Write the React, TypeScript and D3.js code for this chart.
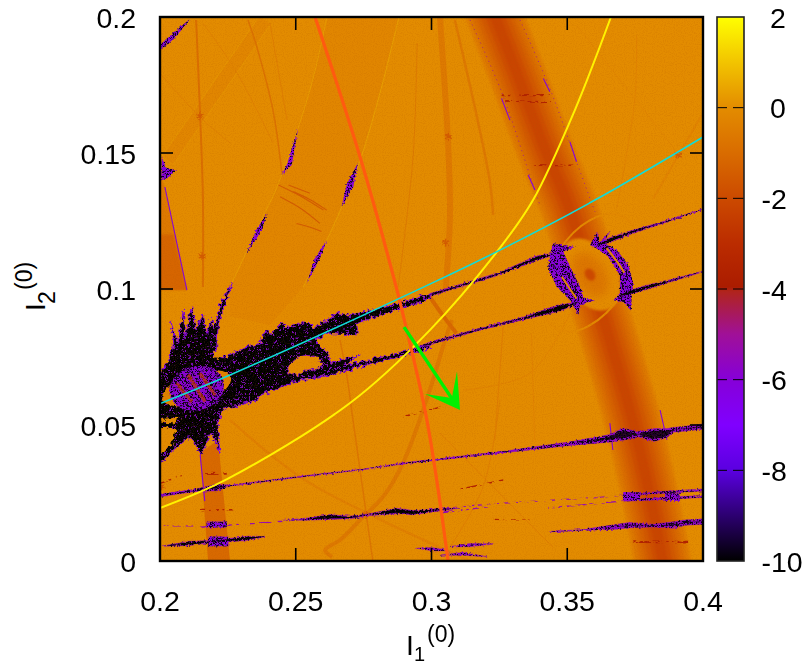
import React from "react";
import * as d3 from "d3";

// ---- axes -------------------------------------------------------------
const xTicks = [0.2, 0.25, 0.3, 0.35, 0.4];
const yTicks = [0, 0.05, 0.1, 0.15, 0.2];
const cTicks = [2, 0, -2, -4, -6, -8, -10];
const paletteValues = [2, 1, 0, -1, -2, -3, -3.95, -4.05, -5, -6, -7, -8, -9, -10];
const paletteColors = ["#ffff00", "#f2c400", "#e38c00", "#d96c00", "#cc4a00", "#bb2c00", "#ab1c00", "#b0241c", "#a01098", "#8600d8", "#8000ff", "#5a00e0", "#2c0070", "#000000"];

// ---- broad bands: I1, I2 in units of 1e-3 ----------------------------
const rightBand = [[321.5, 206], [323.4, 200], [332.6, 176.8], [342.9, 147.4], [350.3, 132.7], [358.4, 105.1], [365.7, 81], [373.1, 56], [378.6, 33.5], [385.3, 0], [386, -6]];
const rightBandValues = [-0.45, -0.7, -1, -1.3, -1.6, -1.9, -2.2];
const rightBandWidths = [57, 51, 44, 36, 28, 19, 10];
const wideBandPoly = [[288, 200], [281, 172], [273.7, 147.4], [263.7, 122.8], [252.7, 100.7], [240.5, 86.8], [225.8, 90], [225.8, 100.7], [237.9, 126.5], [243.1, 137.5], [255.2, 173.1], [261.5, 200]];
const wideEdgeA = [[288, 200], [281, 172], [273.7, 147.4], [263.7, 122.8], [252.7, 100.7]];
const wideEdgeB = [[225.8, 100.7], [237.9, 126.5], [243.1, 137.5], [255.2, 173.1], [261.5, 200]];
const diagBand = [[238.7, 198.9], [202.9, 147.4]];
const leftBandPoly = [[200, 141.9], [201.8, 137.5], [209.9, 99.6], [200, 99.6]];
const leftBandDark = [[200, 120], [205, 120], [209.9, 99.6], [200, 99.6]];
const lowBandPoly = [[214.7, 39.7], [221.4, 44.5], [225.8, 0], [217.7, 0]];

// ---- thin resonance arcs: value, width, points -----------------------
const arcValues = [-0.9, -0.8, -0.5, -0.55, -0.7, -0.6, -0.35, -0.4, -0.4, -0.3, -0.3, -0.4, -1.1, -0.6, -0.25, -0.25, -0.15, -0.4, -0.25, -0.25];
const arcWidths = [2, 1.5, 1, 6, 1.5, 4, 2.5, 1, 1, 1, 1, 1, 4, 2.5, 1, 2, 1, 1.2, 1, 1];
const arcPoints = [
  [[213.3, 198.9], [214.7, 165.8], [215.8, 133.8], [215.8, 100.7]],
  [[232.4, 198.9], [235.7, 188.9], [241.6, 165.8], [244.9, 142.6]],
  [[294.7, 190.4], [293.2, 148.5], [287.7, 100.7]],
  [[303.1, 200], [306.2, 151.7], [306.8, 127.2], [305.2, 99.6]],
  [[266.3, 81.2], [268.9, 67.6], [271.1, 51.8], [278.4, 0]],
  [[307.5, 88.6], [304.2, 78.7], [299.4, 62.9], [289.5, 36], [282.1, 23.5], [274.8, 16.2], [266.3, 7.7], [260.8, 4], [263.4, 1.5]],
  [[225.8, 51.8], [251.6, 30.9], [276.2, 17.6], [314.2, 0]],
  [[303.1, 47], [344.7, 5.1]],
  [[325.2, 59.2], [319, 27.2], [306.8, 5.1]],
  [[215.8, 197.8], [228.4, 179.4], [241.6, 153.7]],
  [[200, 179.4], [214.7, 163.2], [225.8, 153.7]],
  [[240.5, 197.8], [246.8, 162.1]],
  [[299.4, 97.1], [304, 90.5], [309.2, 83.7]],
  [[308.6, 198.9], [316.6, 163.9], [321.5, 139.4], [322.7, 127.2]],
  [[375.5, 193.3], [374.9, 170], [368.2, 129.6]],
  [[399.5, 163.9], [381.7, 133.3]],
  [[353.4, 197], [390.3, 150.5]],
  [[326.4, 86.1], [323.3, 44.5]],
  [[336.8, 83.7], [338, 44.5]],
  [[351, 91], [336.2, 69], [311.7, 62.8]],
];
const striations = [
  [[243.6, 138.2], [252, 134], [260.2, 129]],
  [[244.2, 133.9], [252, 129.5], [258.9, 124.1]],
  [[249.1, 135.8], [255, 133], [261.4, 129]],
  [[250.3, 124.1], [255, 122.8], [259.5, 121.1]],
  [[247.3, 138.2], [255.2, 135.2]],
];
const starCentres = [[214.7, 163.5], [215.5, 112], [306.2, 156], [305.2, 117], [276, 17], [390.9, 149.2], [200.6, 27.5]];
const bandEdgeDots = [
  [[314.2, 198.9], [325.8, 172.5], [336.2, 141.9], [339.9, 130.9]],
  [[332.6, 198.9], [343.6, 173.7], [353.4, 146.8], [360.2, 128.4]],
];
const bandEdgeMarks = [
  [[341.2, 177.4], [343.6, 172.5]],
  [[351, 154.1], [353.4, 146.8]],
  [[335.6, 141.9], [338.1, 136.4]],
  [[325.8, 170.1], [328.9, 162.1]],
  [[365.7, 50.7], [366.8, 40.8]],
  [[384.2, 55.5], [386.7, 44.5]],
  [[214.8, 39], [216.5, 22]],
  [[201.8, 137.5], [209.9, 99.6]],
];

// ---- sharp streaks: I1, I2, half-thickness ---------------------------
const upperLeft = [[299.4, 97.8, 0.5], [325.2, 105.7, 0.5], [332.6, 108.8, 0.7], [338.7, 111.3, 0.9], [343.6, 112.5, 0.5]];
const upperRight = [[362, 116.5, 0.5], [365.7, 118, 0.9], [374.3, 121.1, 0.6], [384.1, 124.1, 0.35], [399.9, 129.3, 0.15]];
const lowerLeft = [[292, 77, 0.5], [299.4, 80, 0.5], [316.6, 84.9, 0.4], [333.8, 89.2, 0.5], [346.7, 92.9, 1.2], [353.4, 94.7, 0.4]];
const lowerRight = [[369, 97.5, 0.4], [371.9, 98.4, 0.8], [379.2, 100.6, 0.8], [389, 103.3, 0.4], [399.9, 106.4, 0.18]];
const streakA = [[200, 24.1, 0.5], [212.3, 25.9, 0.4], [220.9, 27, 1.2], [225.8, 27.7, 0.2], [251.6, 31, 0.2], [274.9, 33.7, 0.15], [289.6, 35.9, 0.25], [303.1, 37.4, 0.25], [327.7, 40.2, 0.3], [352.2, 43.3, 0.7], [365.7, 45.1, 1.4], [370.6, 46.6, 2.2], [376.1, 46.6, 0.9], [381.7, 46.3, 2.4], [386.6, 47, 1.7], [389, 48.2, 0.9], [399.9, 49.4, 1]];
const streakB = [[245.4, 15, 0.02], [254, 15.4, 0.4], [262.6, 16.2, 0.9], [270, 16, 0.5], [276.1, 16.9, 0.3], [287.2, 18.4, 1], [293.3, 17.8, 0.8], [304.4, 19, 0.4], [310, 19.4, 0.05]];
const streakB5 = [[371.2, 24.3, 0.25], [385, 25.2, 0.4], [399.9, 26.1, 0.4]];
const streakB6 = [[372, 22.2, 0.2], [385, 23, 0.4], [399.9, 23.7, 0.4]];
const streakC = [[201.2, 5.5, 0.1], [211, 6.5, 0.8], [218.4, 7.1, 0.4], [225.2, 7.7, 0.6], [231.9, 8.3, 0.8], [238.7, 9, 0.05]];
const streakD = [[343.6, 10.8, 0.1], [355.9, 11.4, 0.2], [368.2, 12.6, 0.9], [373.1, 13.2, 1], [381.7, 13, 0.5], [389, 13.2, 1.2], [393.3, 14.1, 1], [399.9, 14.5, 1]];
const streakE = [[306.8, 5.3, 0.05], [314.1, 5.8, 0.6], [322.7, 6.3, 0.05]];
const streakF = [[303.1, 2.2, 0.05], [311.7, 2.6, 0.5], [320.3, 1.6, 0.05]];
const streakG = [[294.5, 4.7, 0.05], [300.7, 4.3, 0.6], [306.8, 3.8, 0.05]];
const purpleStreaks = [upperLeft, upperRight, lowerLeft, lowerRight, streakA, streakB, streakB5, streakB6, streakC, streakD, streakE, streakF, streakG];
const coreStreaks = [upperLeft, upperRight, lowerLeft, lowerRight, streakB, streakC];
const brokenStreaks = [
  [[214.7, 12.4, 0.25], [247.9, 14.8, 0.25]],
  [[200, 12.9, 0.2], [212.3, 12.9, 0.2]],
  [[303.1, 17.8, 0.4], [321.5, 20, 0.2]],
  [[303.1, 19.4, 0.25], [325.2, 21.2, 0.25], [362, 23.4, 0.25], [371.2, 24.3, 0.25]],
  [[343, 19.5, 0.25], [372, 22.2, 0.25]],
];
const purpleBoxes = [
  [[370.6, 23.7, 1.6], [376.8, 23.7, 1.6]],
  [[386, 23.5, 1.4], [391.5, 23.5, 1.4]],
  [[217.8, 7.2, 1.8], [225.2, 7.2, 1.8]],
  [[217.2, 13.4, 1.1], [224.6, 13.4, 1.1]],
];
const redStreaks = [
  [[214.1, 18.7, 0.5], [227, 19, 0.4]],
  [[216.6, 32.2, 0.6], [224.6, 32.2, 0.5]],
  [[374.3, 7.1, 0.5], [394.6, 6.9, 0.5]],
  [[310.5, 26.4, 0.3], [326.4, 29.8, 0.3]],
  [[322.7, 15.3, 0.2], [338.7, 15, 0.2]],
  [[289.6, 53.1, 0.3], [304.3, 56.8, 0.3]],
  [[325.8, 171.3, 0.4], [343.6, 171.3, 0.4]],
  [[325.8, 169.2, 0.4], [344, 168.6, 0.4]],
  [[337.5, 145.6, 0.4], [352.2, 145.4, 0.4]],
  [[200, 28.5, 0.3], [208, 31.5, 0.3]],
];

// ---- chaotic patches: outlines in I1, I2 ------------------------------
const leftBlob = [[200, 69.6], [203.1, 73.3], [205.1, 80], [204, 88], [206.5, 80], [208.6, 92.3], [209.2, 82.5], [211.7, 93.5], [213.3, 84.9], [215.7, 90.4], [217.2, 83.7], [219, 89.2], [219.9, 84.9], [222.7, 95.3], [226.8, 102.7], [221.5, 87.4], [220.9, 78.8], [219.6, 75.7], [222.7, 74.5], [225.8, 75.7], [229.5, 77.6], [233.2, 79], [236.8, 80], [239.3, 84.9], [241.1, 83.1], [244.8, 88], [246, 85.5], [254, 88], [256.5, 85.5], [265.1, 91], [270, 90.4], [281, 92.9], [289.6, 95.3], [299.5, 98.2], [299.5, 96.6], [289.6, 92.9], [281, 90.4], [272.4, 87.4], [273.1, 83.1], [261.4, 83.7], [257, 81], [261.5, 76.5], [263, 72.7], [273.7, 75.7], [267.5, 72.1], [277.4, 73.9], [284.7, 75.7], [294.6, 78.2], [299.5, 79.4], [299.5, 78.2], [292.1, 76.1], [276.1, 72.1], [262.6, 68.4], [251.6, 66.5], [245.4, 64.1], [236.8, 61], [235.6, 59], [227, 56.7], [222.7, 55.3], [221.5, 51.8], [221.5, 45.7], [222.1, 39.6], [220.3, 44.5], [218.4, 46.9], [216.6, 42], [215.3, 39], [212.9, 43.3], [210.4, 45.7], [204.9, 40.8], [199, 34.9], [199, 69.6]];
const blobHole = [[247.3, 71.4], [246.9, 69.2], [250.4, 68.4], [254, 70.2], [258.5, 70.6], [259.8, 72.8], [257.9, 75], [254, 75.7], [250.4, 74.9]];
const blobGap1 = [[199, 52.1], [207.4, 52.8], [204.9, 50.6], [199, 50.9]];
const blobGap2 = [[199, 49.4], [206.1, 48.8], [204.3, 43.3], [199, 37.8]];
const blobGap3 = [[219.6, 75.7], [222.7, 75.5], [221.5, 74.3], [219.6, 74.5]];
const blobIsland = { c: [213.5, 63.5], rx: 13.2, ry: 5.6 };
const blobIslandCore = { c: [213.5, 63.5], rx: 10.2, ry: 8 };
const islandStripes = [
  [[210.4, 68.4], [216.6, 58.6]],
  [[214.7, 69], [220.3, 61]],
  [[206.1, 65.3], [211.7, 58.6]],
];
const crescentRight = [[358.4, 116.2], [361, 121], [361.8, 117], [366, 121.5], [363.3, 117], [368.2, 114.3], [372.5, 108.8], [374.3, 102.1], [373.7, 98.4], [373.5, 92], [370.6, 95.3], [367, 95.9], [369.4, 98.4], [369.4, 105.1], [365.1, 111.9], [360.8, 114.9]];
const crescentLeft = [[344.8, 116.8], [347.9, 116.2], [352.8, 115.5], [348.5, 113.7], [351.6, 107], [355.3, 99.6], [355.9, 96.6], [360.2, 95.9], [354.7, 94.1], [354.1, 90.4], [351.6, 95.3], [346.1, 100.8], [343, 107.6], [343.6, 112.5]];
const sliverRight = [[364.5, 115], [368, 110.5], [371, 106]];
const sliverLeft = [[348, 104.5], [351, 100], [353.4, 96.5]];
const island = { c: [358.4, 105.3], rx: 14.5, ry: 9.5 };
const islandInner = { c: [358.4, 105.3], rx: 9, ry: 5.5 };
const islandRing = { c: [358.4, 106], rx: 24, ry: 14 };
const fragments = [
  [[272.9, 146.3], [268.8, 138.8], [266.9, 130.2], [271.2, 137.6]],
  [[261.4, 118], [257.1, 111.3], [254, 102.1], [258.9, 111.3]],
  [[250.9, 159], [246.7, 145.6], [244.8, 141.9], [248.5, 145.6]],
  [[239.3, 127.8], [235.4, 121.7], [231.9, 113.1], [237.5, 121.7]],
  [[200, 189.7], [204.8, 194.1], [211, 199.2], [205.5, 192.3], [200, 187.8]],
  [[200.7, 148.5], [202.2, 144.6], [205.9, 143.7], [202.9, 140.8], [200.4, 140]],
];

// ---- over-plotted curves ---------------------------------------------
const cyanCurve = [[200, 57.9], [225.8, 68.4], [299.4, 101.8], [325.2, 114.3], [360.2, 132.7], [400, 155.9]];
const yellowCurve = [[200, 19.5], [224.7, 30.1], [270, 58.1], [299.4, 84.9], [325.2, 115.1], [337.4, 132.7], [352.8, 165.8], [366.1, 200]];
const redCurve = [[257.1, 200], [273.7, 148.5], [287.3, 99.6], [289.1, 92.3], [298.3, 51.8], [306.1, 0]];
const arrowShaft = [[289.9, 86], [309, 57.5]];
const arrowHead = [[310.5, 55.5], [309.4, 69.8], [307.5, 59.9], [297.6, 61.4]];

// ---- scales -----------------------------------------------------------
const L = 160, R = 703, T = 17, B = 561;
const xS = d3.scaleLinear().domain([0.2, 0.4]).range([L, R]);
const yS = d3.scaleLinear().domain([0, 0.2]).range([B, T]);
const cS = d3.scaleLinear().domain([-10, 2]).range([B, T]);
const colorOf = d3.scaleLinear<string>().domain(paletteValues).range(paletteColors).clamp(true);
const mx = (v: number) => xS(v / 1000);
const my = (v: number) => yS(v / 1000);
const curve = d3.line<number[]>().x((p) => mx(p[0])).y((p) => my(p[1])).curve(d3.curveCatmullRom.alpha(0.5));
const smooth = d3.line<number[]>().x((p) => mx(p[0])).y((p) => my(p[1])).curve(d3.curveBasis);
const straight = d3.line<number[]>().x((p) => mx(p[0])).y((p) => my(p[1]));
const closed = (pts: number[][]) => straight(pts) + "Z";
const lens = (pts: number[][], shrink = 0) => {
  const top = pts.map((p) => [p[0], p[1] + Math.max(0, p[2] - shrink)]);
  const bot = pts.map((p) => [p[0], p[1] - Math.max(0, p[2] - shrink)]).reverse();
  return closed([...top, ...bot]);
};
const fmt = (v: number) => String(v);
const ellipseOf = (e: { c: number[]; rx: number; ry: number }, rot: number, fill: string, extra: any = {}) => (
  <ellipse cx={mx(e.c[0])} cy={my(e.c[1])} rx={mx(e.c[0] + e.rx) - mx(e.c[0])} ry={my(e.c[1]) - my(e.c[1] + e.ry)} fill={fill}
    transform={`rotate(${rot} ${mx(e.c[0])} ${my(e.c[1])})`} {...extra} />
);
const FONT = "'Liberation Sans', Arial, sans-serif";
const tick = "#000";
const region = { filterUnits: "userSpaceOnUse", x: L, y: T, width: R - L, height: B - T } as any;

export default function App() {
  const purple = colorOf(-6.2);
  const deep = colorOf(-10);
  const bg = colorOf(0);
  const allPurplePolys = [...fragments, crescentLeft, crescentRight];
  const star = d3.symbol(d3.symbolAsterisk, 45);
  return (
    <svg width={808} height={664} style={{ position: "absolute", left: 0, top: 0, display: "block", background: "#fff" }} fontFamily={FONT}>
      <defs>
        <clipPath id="plot"><rect x={L} y={T} width={R - L} height={B - T} /></clipPath>
        <linearGradient id="cbar" x1="0" x2="0" y1="1" y2="0">
          {paletteValues.map((v, i) => (
            <stop key={i} offset={(v + 10) / 12} stopColor={paletteColors[i]} />
          )).reverse()}
        </linearGradient>
        <filter id="purpleSpeck" {...region} colorInterpolationFilters="sRGB">
          <feTurbulence type="fractalNoise" baseFrequency="0.75" numOctaves="2" seed="4" result="n" />
          <feColorMatrix in="n" type="matrix" values="0 0 0 0 0.46  0 0 0 0 0.04  0 0 0 0 0.72  0 0 0 14 -8.6" result="m" />
          <feComposite in="m" in2="SourceAlpha" operator="in" />
        </filter>
        <filter id="blackSpeck" {...region} colorInterpolationFilters="sRGB">
          <feTurbulence type="fractalNoise" baseFrequency="0.8" numOctaves="2" seed="9" result="n" />
          <feColorMatrix in="n" type="matrix" values="0 0 0 0 0.05  0 0 0 0 0  0 0 0 0 0.12  0 0 0 12 -6" result="m" />
          <feComposite in="m" in2="SourceAlpha" operator="in" />
        </filter>
        <filter id="grain" {...region} colorInterpolationFilters="sRGB">
          <feTurbulence type="fractalNoise" baseFrequency="0.9" numOctaves="1" seed="2" result="n" />
          <feColorMatrix in="n" type="matrix" values="0 0 0 0 0.72  0 0 0 0 0.36  0 0 0 0 0  0 0 0 4 -1.85" result="m" />
          <feComposite in="m" in2="SourceAlpha" operator="in" />
        </filter>
        <filter id="rough" {...region} colorInterpolationFilters="sRGB">
          <feTurbulence type="fractalNoise" baseFrequency="0.3" numOctaves="2" seed="7" result="n" />
          <feDisplacementMap in="SourceGraphic" in2="n" scale="7" xChannelSelector="R" yChannelSelector="G" />
        </filter>
        <filter id="roughFine" {...region} colorInterpolationFilters="sRGB">
          <feTurbulence type="fractalNoise" baseFrequency="0.5" numOctaves="2" seed="11" result="n" />
          <feDisplacementMap in="SourceGraphic" in2="n" scale="3" xChannelSelector="R" yChannelSelector="G" />
        </filter>
        <filter id="broken" {...region} colorInterpolationFilters="sRGB">
          <feTurbulence type="fractalNoise" baseFrequency="0.18 0.5" numOctaves="2" seed="5" result="n" />
          <feColorMatrix in="n" type="matrix" values="0 0 0 0 0  0 0 0 0 0  0 0 0 0 0  0 0 0 14 -7" result="m" />
          <feComposite in="SourceGraphic" in2="m" operator="in" />
        </filter>
        <filter id="soft" x="-30%" y="-30%" width="160%" height="160%"><feGaussianBlur stdDeviation="1.2" /></filter>
        <filter id="soft2" x="-40%" y="-40%" width="180%" height="180%"><feGaussianBlur stdDeviation="5" /></filter>
      </defs>

      <g clipPath="url(#plot)">
        <rect x={L} y={T} width={R - L} height={B - T} fill={bg} />
        <path d={closed(wideBandPoly)} fill={colorOf(-0.2)} />
        <path d={curve(wideEdgeA)!} fill="none" stroke={colorOf(0.35)} strokeWidth={1} />
        <path d={curve(wideEdgeB)!} fill="none" stroke={colorOf(0.3)} strokeWidth={1} />
        <path d={straight(diagBand)!} fill="none" stroke={colorOf(0.15)} strokeWidth={15} />
        <path d={straight(diagBand)!} fill="none" stroke={colorOf(-0.2)} strokeWidth={13} />
        <path d={closed(leftBandPoly)} fill={colorOf(-0.6)} />
        <path d={closed(leftBandDark)} fill={colorOf(-1.2)} filter="url(#soft)" />
        <path d={closed(lowBandPoly)} fill={colorOf(-1.1)} />
        {arcPoints.map((pts, i) => (
          <path key={i} d={curve(pts)!} fill="none" stroke={colorOf(arcValues[i])} strokeWidth={arcWidths[i]} />
        ))}
        <g filter="url(#soft)">
          {rightBandValues.map((v, i) => (
            <path key={v} d={smooth(rightBand)!} fill="none" stroke={colorOf(v)} strokeWidth={rightBandWidths[i]} />
          ))}
        </g>
        {bandEdgeDots.map((pts, i) => (
          <path key={i} d={curve(pts)!} fill="none" stroke={colorOf(-5.2)} strokeWidth={0.8} strokeDasharray="1 4" />
        ))}
        {bandEdgeMarks.map((pts, i) => (
          <path key={i} d={straight(pts)!} fill="none" stroke={purple} strokeWidth={1.1} />
        ))}
        {striations.map((pts, i) => (
          <path key={i} d={curve(pts)!} fill="none" stroke={colorOf(-1.5)} strokeWidth={1.1} />
        ))}
        <g filter="url(#roughFine)">
          {starCentres.map((c, i) => (
            <path key={i} d={star()!} transform={`translate(${mx(c[0])},${my(c[1])})`} fill="none" stroke={colorOf(-1.5)} strokeWidth={1.3} />
          ))}
        </g>
        {ellipseOf(islandRing, -58, "none", { stroke: colorOf(-0.1), strokeWidth: 2 })}
        {ellipseOf(island, -122, bg, { filter: "url(#soft)" })}
        {ellipseOf(islandInner, -122, colorOf(-0.7), { filter: "url(#soft2)" })}
        {ellipseOf({ c: island.c, rx: 2.4, ry: 1.8 }, -122, colorOf(-2), { filter: "url(#soft)" })}
        <g filter="url(#broken)">
          {redStreaks.map((s, i) => (
            <path key={i} d={lens(s)} fill={colorOf(-3.6)} />
          ))}
          {brokenStreaks.map((s, i) => (
            <path key={i} d={lens(s)} fill={colorOf(-5.4)} />
          ))}
        </g>
        <g filter="url(#roughFine)">
          {purpleBoxes.map((s, i) => (
            <path key={i} d={lens(s)} fill={purple} />
          ))}
          {purpleStreaks.map((s, i) => (
            <path key={i} d={lens(s)} fill={colorOf(-5.8)} stroke={colorOf(-5.8)} strokeWidth={0.4} />
          ))}
          {allPurplePolys.map((s, i) => (
            <path key={i} d={closed(s)} fill={purple} />
          ))}
          <g filter="url(#blackSpeck)">
            {purpleBoxes.map((s, i) => <path key={i} d={lens(s)} />)}
            {allPurplePolys.map((s, i) => <path key={i} d={closed(s)} />)}
            {purpleStreaks.map((s, i) => <path key={i} d={lens(s)} />)}
          </g>
          {coreStreaks.map((s, i) => (
            <path key={i} d={lens(s, 0.32)} fill={deep} />
          ))}
          {[streakA, streakD].map((s, i) => (
            <path key={i} d={lens(s, 0.85)} fill={deep} opacity={0.8} />
          ))}
        </g>
        <path d={curve(sliverRight)!} fill="none" stroke={colorOf(-0.1)} strokeWidth={2} />
        <path d={curve(sliverLeft)!} fill="none" stroke={colorOf(-0.1)} strokeWidth={2} />

        <g filter="url(#rough)">
          <path d={closed(leftBlob)} fill={deep} stroke={colorOf(-6.6)} strokeWidth={1} />
          <g filter="url(#purpleSpeck)"><path d={closed(leftBlob)} /></g>
          <path d={closed(blobHole)} fill={bg} stroke={purple} strokeWidth={0.8} />
          <path d={closed(blobGap1)} fill={bg} />
          <path d={closed(blobGap2)} fill={bg} />
          <path d={closed(blobGap3)} fill={bg} />
        </g>
        <g filter="url(#roughFine)">
          {ellipseOf(blobIsland, -18, colorOf(-0.3))}
          {ellipseOf(blobIslandCore, -15, colorOf(-6))}
          <g filter="url(#blackSpeck)">{ellipseOf(blobIslandCore, -15, "#000")}</g>
          {islandStripes.map((s, i) => (
            <path key={i} d={straight(s)!} stroke={colorOf(-2.6)} strokeWidth={3.5} fill="none" opacity={0.7} />
          ))}
        </g>
        <rect filter="url(#grain)" x={L} y={T} width={R - L} height={B - T} fill="#000" opacity={0.16} />

        <path d={curve(yellowCurve)!} fill="none" stroke="#fff200" strokeWidth={2} />
        <path d={curve(redCurve)!} fill="none" stroke="#ff5a10" strokeWidth={3.2} />
        <path d={curve(cyanCurve)!} fill="none" stroke="#10dcd8" strokeWidth={1.6} />
        <path d={straight(arrowShaft)!} fill="none" stroke="#00f000" strokeWidth={3.4} />
        <path d={closed(arrowHead)} fill="#00f000" />
      </g>

      {/* axes */}
      {xTicks.map((v) => (
        <g key={v}>
          <line x1={xS(v)} x2={xS(v)} y1={B} y2={B - 13} stroke={tick} strokeWidth={1.6} />
          <line x1={xS(v)} x2={xS(v)} y1={T} y2={T + 13} stroke={tick} strokeWidth={1.6} />
          <text x={xS(v)} y={611} textAnchor="middle" fontSize={28.5} fill="#000">{fmt(v)}</text>
        </g>
      ))}
      {yTicks.map((v) => (
        <g key={v}>
          <line x1={L} x2={L + 13} y1={yS(v)} y2={yS(v)} stroke={tick} strokeWidth={1.6} />
          <line x1={R} x2={R - 13} y1={yS(v)} y2={yS(v)} stroke={tick} strokeWidth={1.6} />
          <text x={136} y={yS(v) + 10.5} textAnchor="end" fontSize={28.5} fill="#000">{fmt(v)}</text>
        </g>
      ))}
      <rect x={L} y={T} width={R - L} height={B - T} fill="none" stroke="#000" strokeWidth={2.4} />

      {/* colour box */}
      <rect x={717} y={T} width={27} height={B - T} fill="url(#cbar)" />
      {cTicks.map((v) => (
        <g key={v}>
          {v > -10 && v < 2 && <line x1={717} x2={744} y1={cS(v)} y2={cS(v)} stroke="#000" strokeWidth={1} strokeDasharray="10 6 11" />}
          <text x={v < 0 ? 761.5 : 770} y={cS(v) + 10.5} fontSize={28.5} fill="#000">{fmt(v)}</text>
        </g>
      ))}
      <rect x={717} y={T} width={27} height={B - T} fill="none" stroke="#222" strokeWidth={1.6} />

      {/* axis titles */}
      <text x={406} y={655} fontSize={28.5} fill="#000">I</text>
      <text x={414} y={661} fontSize={20} fill="#000">1</text>
      <text x={427} y={642} fontSize={23} fill="#000">(0)</text>
      <g transform="translate(45,311) rotate(-90)">
        <text x={0} y={0} fontSize={28.5} fill="#000">I</text>
        <text x={7} y={9.5} fontSize={23} fill="#000">2</text>
        <text x={21} y={-13} fontSize={23} fill="#000">(0)</text>
      </g>
    </svg>
  );
}
